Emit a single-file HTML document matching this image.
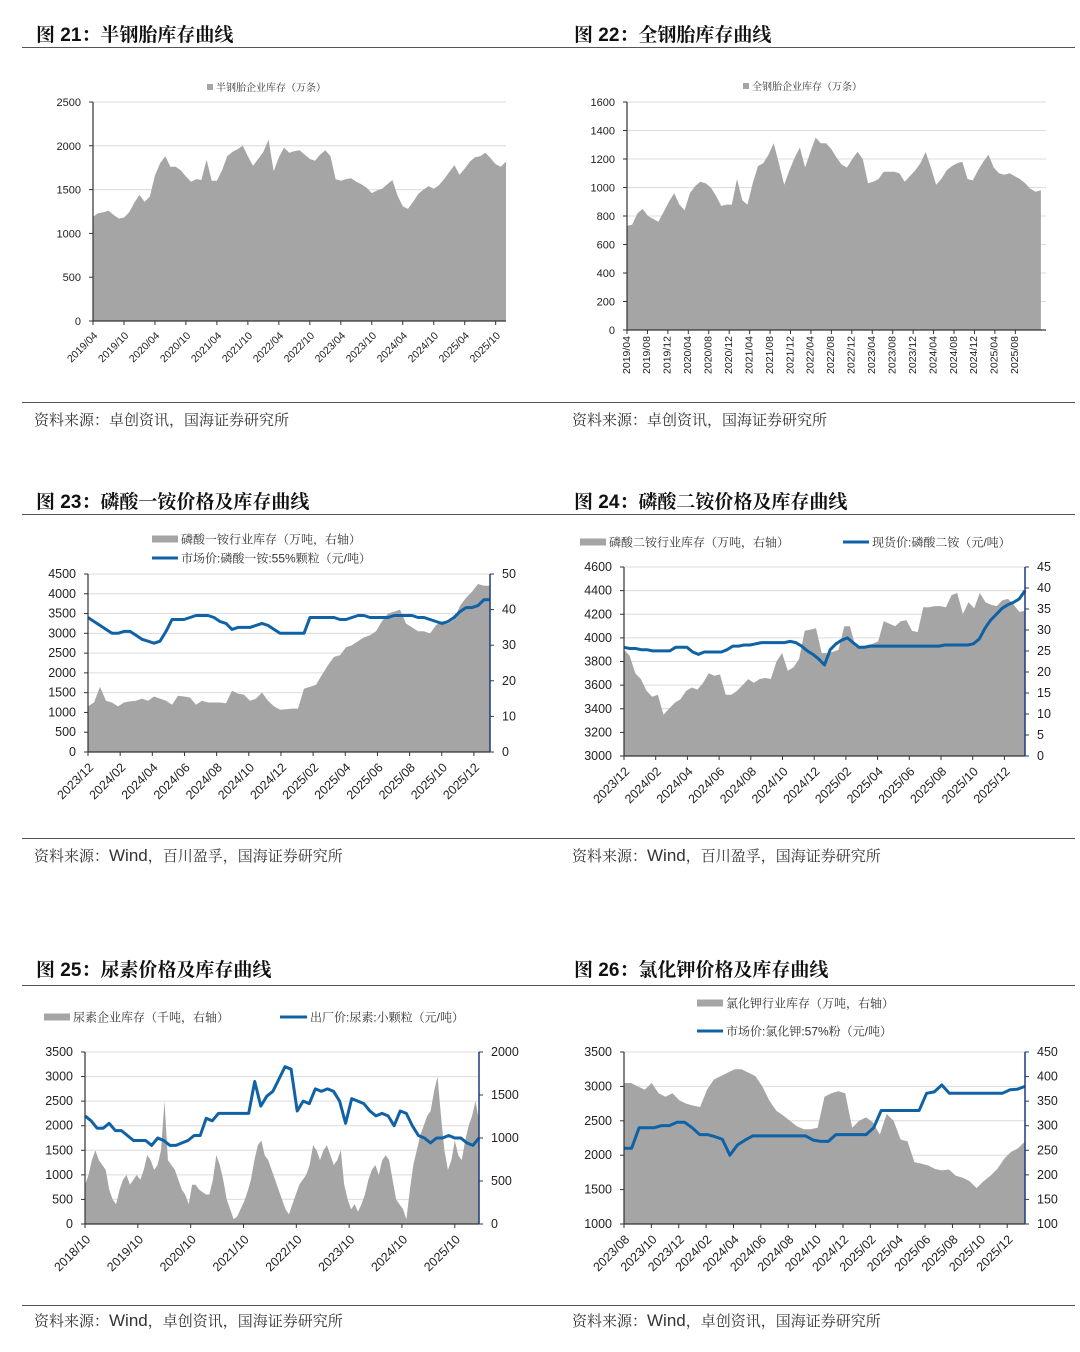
<!DOCTYPE html>
<html><head><meta charset="utf-8">
<style>
html,body{margin:0;padding:0;background:#fff;}
body{width:1080px;height:1352px;position:relative;overflow:hidden;font-family:"Liberation Sans","Noto Sans CJK SC",sans-serif;}
.t{position:absolute;font-family:"Liberation Sans","Noto Serif CJK SC","Noto Sans CJK SC",serif;font-weight:bold;font-size:19px;color:#111;}
.s{position:absolute;font-family:"Liberation Sans","Noto Serif CJK SC","Noto Sans CJK SC",serif;font-size:15px;color:#333;}
.ln{position:absolute;height:1px;background:#555;}
svg{position:absolute;left:0;top:0;}
</style></head><body>
<div class="t" style="left:36px;top:20px">图 21：半钢胎库存曲线</div>
<div class="t" style="left:574px;top:20px">图 22：全钢胎库存曲线</div>
<div class="t" style="left:36px;top:487px">图 23：磷酸一铵价格及库存曲线</div>
<div class="t" style="left:574px;top:487px">图 24：磷酸二铵价格及库存曲线</div>
<div class="t" style="left:36px;top:955px">图 25：尿素价格及库存曲线</div>
<div class="t" style="left:574px;top:955px">图 26：氯化钾价格及库存曲线</div>
<div class="ln" style="left:22px;width:1053px;top:47px"></div>
<div class="ln" style="left:22px;width:1053px;top:402px"></div>
<div class="ln" style="left:22px;width:1053px;top:514px"></div>
<div class="ln" style="left:22px;width:1053px;top:838px"></div>
<div class="ln" style="left:22px;width:1053px;top:985px"></div>
<div class="ln" style="left:22px;width:1053px;top:1305px"></div>
<div class="s" style="left:34px;top:409px">资料来源：卓创资讯，国海证券研究所</div>
<div class="s" style="left:572px;top:409px">资料来源：卓创资讯，国海证券研究所</div>
<div class="s" style="left:34px;top:845px">资料来源：<span style="font-size:17px">Wind</span>，百川盈孚，国海证券研究所</div>
<div class="s" style="left:572px;top:845px">资料来源：<span style="font-size:17px">Wind</span>，百川盈孚，国海证券研究所</div>
<div class="s" style="left:34px;top:1310px">资料来源：<span style="font-size:17px">Wind</span>，卓创资讯，国海证券研究所</div>
<div class="s" style="left:572px;top:1310px">资料来源：<span style="font-size:17px">Wind</span>，卓创资讯，国海证券研究所</div>
<svg id="cv" width="1080" height="1352"></svg>
<script>
// ---- data ----
const c21Inventory=[1190,1230,1240,1260,1210,1170,1180,1240,1350,1440,1360,1420,1660,1800,1880,1760,1760,1720,1650,1590,1620,1610,1840,1600,1600,1720,1880,1930,1960,2000,1880,1770,1850,1930,2070,1710,1870,1980,1920,1940,1950,1900,1850,1830,1900,1950,1880,1620,1600,1620,1630,1590,1560,1520,1460,1490,1510,1560,1610,1430,1310,1280,1360,1450,1500,1540,1510,1550,1620,1700,1780,1670,1740,1820,1870,1880,1920,1860,1790,1760,1820];
const c21XLabels=["2019/04","2019/10","2020/04","2020/10","2021/04","2021/10","2022/04","2022/10","2023/04","2023/10","2024/04","2024/10","2025/04","2025/10"];
const c21YTicks=[0,500,1000,1500,2000,2500];

const c22Inventory=[730,740,820,850,800,780,760,830,900,960,880,840,960,1010,1040,1030,1000,940,870,880,880,1060,910,880,1030,1150,1170,1230,1310,1170,1020,1120,1210,1280,1140,1250,1350,1310,1310,1270,1210,1160,1140,1200,1250,1200,1030,1040,1060,1110,1110,1110,1100,1040,1080,1120,1170,1250,1140,1020,1060,1120,1150,1170,1180,1060,1050,1120,1180,1230,1140,1100,1090,1100,1080,1060,1030,990,970,980];
const c22XLabels=["2019/04","2019/08","2019/12","2020/04","2020/08","2020/12","2021/04","2021/08","2021/12","2022/04","2022/08","2022/12","2023/04","2023/08","2023/12","2024/04","2024/08","2024/12","2025/04","2025/08"];
const c22YTicks=[0,200,400,600,800,1000,1200,1400,1600];

const c23Inventory=[12.8,13.9,18.3,14.4,13.9,12.8,13.9,14.2,14.4,15,14.4,15.6,15,14.4,13.3,15.8,15.6,15.3,13.3,14.4,13.9,13.9,13.9,13.7,17.2,16.4,16.1,14.4,15,16.7,14.4,12.8,11.9,12,12.2,12.2,17.8,18.3,18.9,21.7,24.4,26.7,27.2,29.4,30,31.1,32.2,32.8,33.9,36.7,38.9,39.4,40,36.1,35,33.9,33.9,33.3,35.6,36.7,36.1,37.2,41.1,43.3,45,47.2,46.7,46.7];
const c23Price=[3400,3300,3200,3100,3000,3000,3050,3050,2950,2850,2800,2750,2800,3050,3350,3350,3350,3400,3450,3450,3450,3400,3300,3250,3100,3150,3150,3150,3200,3250,3200,3100,3000,3000,3000,3000,3000,3400,3400,3400,3400,3400,3350,3350,3400,3450,3450,3400,3400,3400,3400,3450,3450,3450,3450,3400,3400,3350,3300,3250,3300,3400,3550,3650,3650,3700,3850,3850];
const c23XLabels=["2023/12","2024/02","2024/04","2024/06","2024/08","2024/10","2024/12","2025/02","2025/04","2025/06","2025/08","2025/10","2025/12"];
const c23LeftTicks=[0,500,1000,1500,2000,2500,3000,3500,4000,4500];
const c23RightTicks=[0,10,20,30,40,50];

const c24Inventory=[25.3,23.9,19.7,18.3,15.5,14.1,14.6,9.8,11.3,12.7,13.5,15.5,16.3,15.8,17.4,19.7,19.1,19.4,14.6,14.6,15.5,16.9,18.3,17.4,18.3,18.6,18.3,22.5,24.5,20.3,21.1,23.1,29.8,30.1,30.4,24.5,24.5,24.8,25.3,30.9,30.9,25.9,26.2,26.4,26.7,27.3,32.1,31.5,30.9,32.1,32.3,29.8,29.5,35.4,35.4,35.7,35.7,35.4,38.3,38.8,33.8,36.6,35.2,38.8,36.6,36,35.7,37.1,37.4,36,34.3,34.6];
const c24Price=[3920,3910,3910,3900,3900,3890,3890,3890,3890,3920,3920,3920,3880,3860,3880,3880,3880,3880,3900,3930,3930,3940,3940,3950,3960,3960,3960,3960,3960,3970,3960,3930,3890,3860,3820,3770,3900,3950,3980,4000,3960,3920,3920,3930,3930,3930,3930,3930,3930,3930,3930,3930,3930,3930,3930,3930,3940,3940,3940,3940,3940,3950,3990,4080,4150,4200,4250,4280,4300,4330,4400];
const c24XLabels=["2023/12","2024/02","2024/04","2024/06","2024/08","2024/10","2024/12","2025/02","2025/04","2025/06","2025/08","2025/10","2025/12"];
const c24LeftTicks=[3000,3200,3400,3600,3800,4000,4200,4400,4600];
const c24RightTicks=[0,5,10,15,20,25,30,35,40,45];

const c25Inventory=[457,571,743,857,743,686,629,400,286,229,400,514,571,457,514,571,514,629,800,743,629,686,857,1429,743,686,629,514,400,343,229,457,457,400,371,343,343,514,800,686,514,286,171,57,86,171,257,371,514,743,914,971,800,743,629,514,400,286,171,114,229,343,457,514,571,686,914,857,743,857,914,800,686,743,857,457,286,171,229,143,229,343,514,629,686,571,743,800,743,514,286,229,171,57,400,686,857,1029,1143,1257,1314,1543,1714,1257,857,629,743,971,800,743,971,1143,1257,1429,1200];
const c25Price=[2200,2100,1950,1950,2050,1900,1900,1800,1700,1700,1700,1600,1750,1700,1600,1600,1650,1700,1800,1800,2150,2100,2250,2250,2250,2250,2250,2250,2900,2400,2600,2700,2950,3200,3150,2300,2500,2450,2750,2700,2750,2700,2500,2050,2550,2500,2450,2300,2200,2250,2200,2000,2300,2250,2000,1800,1750,1650,1750,1750,1800,1750,1750,1650,1600,1750];
const c25XLabels=["2018/10","2019/10","2020/10","2021/10","2022/10","2023/10","2024/10","2025/10"];
const c25LeftTicks=[0,500,1000,1500,2000,2500,3000,3500];
const c25RightTicks=[0,500,1000,1500,2000];

const c26Inventory=[387,387,380,373,387,366,359,366,352,345,341,338,373,394,401,408,415,415,408,401,380,352,331,321,310,299,293,293,296,359,366,370,366,296,310,317,307,282,324,310,272,268,226,223,219,212,209,211,198,194,187,173,187,198,212,233,247,254,268];
const c26Price=[2100,2100,2400,2400,2400,2430,2430,2480,2480,2400,2300,2300,2270,2230,2000,2150,2220,2280,2280,2280,2280,2280,2280,2280,2280,2220,2200,2200,2300,2300,2300,2300,2300,2400,2650,2650,2650,2650,2650,2650,2900,2920,3020,2900,2900,2900,2900,2900,2900,2900,2900,2950,2960,3000];
const c26XLabels=["2023/08","2023/10","2023/12","2024/02","2024/04","2024/06","2024/08","2024/10","2024/12","2025/02","2025/04","2025/06","2025/08","2025/10","2025/12"];
const c26LeftTicks=[1000,1500,2000,2500,3000,3500];
const c26RightTicks=[100,150,200,250,300,350,400,450];

// ---- drawing ----
const NS="http://www.w3.org/2000/svg";
const cv=document.getElementById('cv');
function mk(tag,attrs,parent){const e=document.createElementNS(NS,tag);for(const k in attrs)e.setAttribute(k,attrs[k]);(parent||cv).appendChild(e);return e;}
const FONT='"Liberation Sans","Noto Sans CJK SC",sans-serif';
const SFONT='"Liberation Sans","Noto Serif CJK SC",serif';

function chart(o){
  const g=mk('g',{});
  
  
  const yL=v=>o.y1-(v-o.lt[0])/(o.lt[o.lt.length-1]-o.lt[0])*(o.y1-o.y0);
  const yR=o.rt?(v=>o.y1-(v-o.rt[0])/(o.rt[o.rt.length-1]-o.rt[0])*(o.y1-o.y0)):yL;
  const xm=m=>o.x0+m/o.M*(o.x1-o.x0);
  o.lt.forEach(t=>{
    const gl=mk('line',{x1:o.x0,x2:o.x1,y1:yL(t),y2:yL(t),stroke:'#dcdcdc','stroke-width':1},g);
    
    
    const tx=mk('text',{x:o.x0-12,y:yL(t)+4,'text-anchor':'end','font-size':o.fs,fill:'#222','font-family':FONT},g);
    tx.textContent=t;
    
    
    mk('line',{x1:o.x0-4,x2:o.x0,y1:yL(t),y2:yL(t),stroke:'#333'},g);
  });
  const A=o.area, n=A.length;
  let d='M'+xm(0)+','+o.y1;
  A.forEach((v,i)=>{d+=' L'+xm(i/(n-1)*o.dataM).toFixed(1)+','+yR(v).toFixed(1);});
  d+=' L'+xm(o.dataM)+','+o.y1+' Z';
  const ar=mk('path',{d:d,fill:'#a5a5a5'},g);
  
  
  if(o.line){
    const L=o.line,m=L.length;
    let p='';
    L.forEach((v,i)=>{p+=(i?' L':'M')+xm(i/(m-1)*o.dataM).toFixed(1)+','+yL(v).toFixed(1);});
    const pl=mk('path',{d:p,fill:'none',stroke:'#0f62a5','stroke-width':3,'stroke-linejoin':'round'},g);
    
    
  }
  mk('line',{x1:o.x0,x2:o.x0,y1:o.y0,y2:o.y1,stroke:'#333','stroke-width':1.2},g);
  mk('line',{x1:o.x0,x2:o.x1,y1:o.y1,y2:o.y1,stroke:'#333','stroke-width':1.2},g);
  if(o.rt){
    mk('line',{x1:o.x1,x2:o.x1,y1:o.y0,y2:o.y1,stroke:'#1f3b7a','stroke-width':1.5},g);
    o.rt.forEach(t=>{
      mk('line',{x1:o.x1,x2:o.x1+4,y1:yR(t),y2:yR(t),stroke:'#1f3b7a'},g);
      const tx=mk('text',{x:o.x1+12,y:yR(t)+4,'text-anchor':'start','font-size':o.fs,fill:'#222','font-family':FONT},g);
      tx.textContent=t;
      
      
    });
  }
  o.xl.forEach((lab,i)=>{
    const x=xm(i*o.step);
    mk('line',{x1:x,x2:x,y1:o.y1,y2:o.y1+4,stroke:'#333'},g);
    const tx=mk('text',{x:x,y:o.y1+10,'text-anchor':'end','font-size':o.xfs,fill:'#222','font-family':FONT,transform:'rotate('+o.rot+' '+x+' '+(o.y1+10)+')','dominant-baseline':o.rot==-90?'middle':'auto'},g);
    if(o.rot==-90){tx.setAttribute('x',x);tx.setAttribute('y',o.y1+6);tx.setAttribute('transform','rotate(-90 '+x+' '+(o.y1+6)+')');}
    else{tx.setAttribute('dy','0.7em');}
    tx.textContent=lab;
    
    
  });
}
function legArea(x,y,w,h,text,fs,name){
  const r=mk('rect',{x:x,y:y-h/2,width:w,height:h,fill:'#a5a5a5'});
  
  
  const t=mk('text',{x:x+w+3,y:y+fs*0.38,'font-size':fs,fill:'#333','font-family':SFONT});
  t.textContent=text;
  
  
}
function legLine(x,y,w,text,fs,name){
  const r=mk('line',{x1:x,x2:x+w,y1:y,y2:y,stroke:'#0f62a5','stroke-width':3});
  
  
  const t=mk('text',{x:x+w+3,y:y+fs*0.38,'font-size':fs,fill:'#333','font-family':SFONT});
  t.textContent=text;
  
  
}

chart({name:'chart-fig21',x0:93,x1:506,y0:102,y1:321,lt:c21YTicks,area:c21Inventory,M:80,dataM:80,step:6,xl:c21XLabels,rot:-45,fs:11,xfs:10.5});
legArea(207,87,6,6,'半钢胎企业库存（万条）',10,'legend-fig21');
chart({name:'chart-fig22',x0:627,x1:1046,y0:102,y1:330,lt:c22YTicks,area:c22Inventory,M:82,dataM:81,step:4,xl:c22XLabels,rot:-90,fs:11,xfs:10.5});
legArea(743,86,6,6,'全钢胎企业库存（万条）',10,'legend-fig22');

chart({name:'chart-fig23',x0:88,x1:490,y0:574,y1:752,lt:c23LeftTicks,rt:c23RightTicks,area:c23Inventory,line:c23Price,M:25,dataM:25,step:2,xl:c23XLabels,rot:-45,fs:12.5,xfs:12.5});
legArea(152,539,26,7,'磷酸一铵行业库存（万吨，右轴）',12,'legend-fig23-inventory');
legLine(152,558,26,'市场价:磷酸一铵:55%颗粒（元/吨）',12,'legend-fig23-price');

chart({name:'chart-fig24',x0:624,x1:1025,y0:567,y1:756,lt:c24LeftTicks,rt:c24RightTicks,area:c24Inventory,line:c24Price,M:25.3,dataM:25.3,step:2,xl:c24XLabels,rot:-45,fs:12.5,xfs:12.5});
legArea(580,542,26,7,'磷酸二铵行业库存（万吨，右轴）',12,'legend-fig24-inventory');
legLine(843,542,26,'现货价:磷酸二铵（元/吨）',12,'legend-fig24-price');

chart({name:'chart-fig25',x0:85,x1:479,y0:1052,y1:1224,lt:c25LeftTicks,rt:c25RightTicks,area:c25Inventory,line:c25Price,M:89.5,dataM:89.5,step:12,xl:c25XLabels,rot:-45,fs:12.5,xfs:12.5});
legArea(44,1017,26,7,'尿素企业库存（千吨，右轴）',12,'legend-fig25-inventory');
legLine(280,1017,27,'出厂价:尿素:小颗粒（元/吨）',12,'legend-fig25-price');

chart({name:'chart-fig26',x0:624,x1:1025,y0:1052,y1:1224,lt:c26LeftTicks,rt:c26RightTicks,area:c26Inventory,line:c26Price,M:29.3,dataM:29.3,step:2,xl:c26XLabels,rot:-45,fs:12.5,xfs:12.5});
legArea(697,1003,26,7,'氯化钾行业库存（万吨，右轴）',12,'legend-fig26-inventory');
legLine(697,1031,26,'市场价:氯化钾:57%粉（元/吨）',12,'legend-fig26-price');
</script>
</body></html>
